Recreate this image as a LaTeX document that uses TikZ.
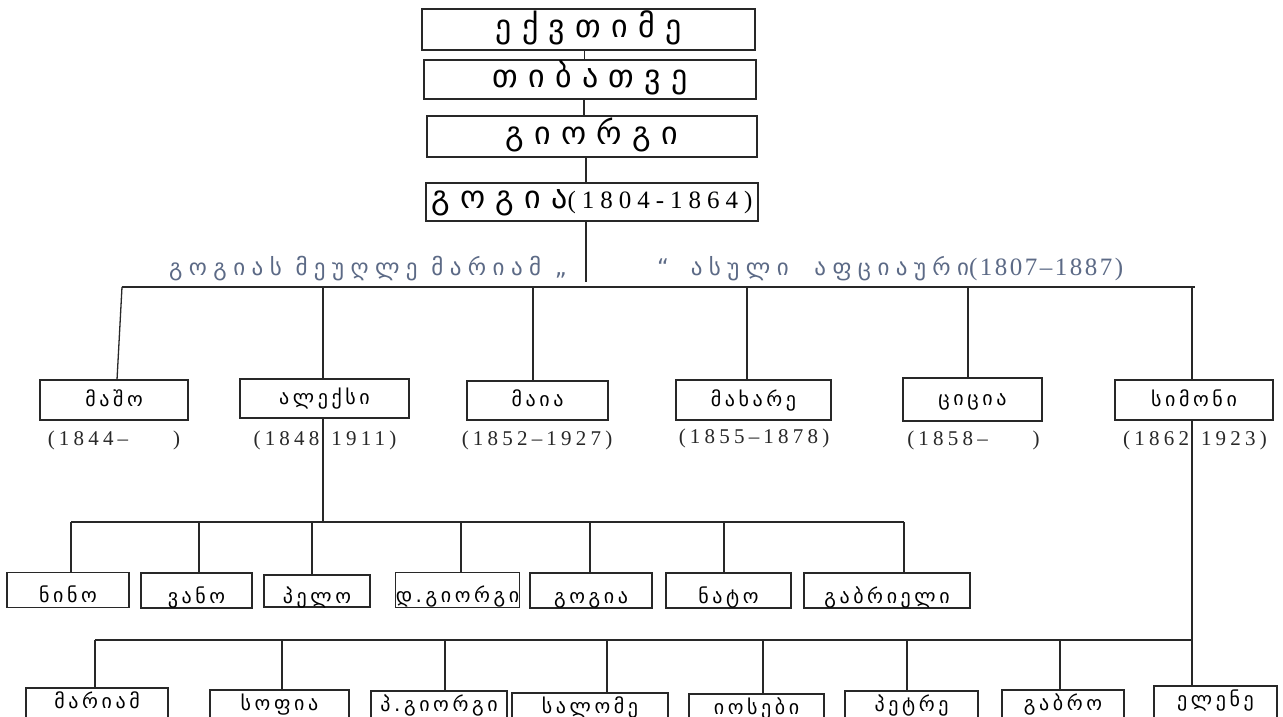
\documentclass[tikz,border=0pt]{standalone}
\usepackage{fontspec}
\newfontfamily\geo[LetterSpace=18]{DejaVu Sans}
\newfontfamily\geosp[LetterSpace=28]{DejaVu Sans}
\newfontfamily\mtav[LetterSpace=32]{DejaVu Sans}
\newfontfamily\digs[LetterSpace=20]{Liberation Serif}
\newfontfamily\digb[LetterSpace=24]{Liberation Serif}
\newfontfamily\digsp[LetterSpace=10]{Liberation Serif}
\definecolor{spouse}{RGB}{92,106,134}
\definecolor{ln}{RGB}{40,40,40}
\begin{document}
\begin{tikzpicture}[x=1pt,y=-1pt,
  box/.style={draw=ln, line width=1.3pt, inner sep=0pt, outer sep=0pt, align=center},
  topbox/.style={box, font=\mtav\fontsize{32}{36}\selectfont, text height=23pt, text depth=7pt},
  kid/.style={box, font=\geo\fontsize{20}{22}\selectfont, text height=17pt, text depth=5pt, minimum height=40pt},
  gkid/.style={box, font=\geo\fontsize{20}{22}\selectfont, text height=25pt, text depth=0pt, minimum height=35pt},
  bkid/.style={box, anchor=north, font=\geo\fontsize{20}{22}\selectfont, text height=15pt, text depth=11pt, minimum height=36pt},
  date/.style={font=\digs\fontsize{21}{24}\selectfont, anchor=base, inner sep=0pt, text=ln},
  spousetext/.style={font=\geosp\fontsize{23}{26}\selectfont, text=spouse, anchor=base west, inner sep=0pt},
  link/.style={draw=ln, line width=1.3pt}]
\useasboundingbox (0,0) rectangle (1283,717);
\clip (0,0) rectangle (1283,717);
\fill[white] (0,0) rectangle (1283,717);

% ancestors
\node[topbox, minimum width=333pt, minimum height=41pt] (b1) at (588.5,29.5) {ექვთიმე};
\node[topbox, minimum width=332pt, minimum height=39pt] (b2) at (590,79.5) {თიბათვე};
\node[topbox, minimum width=330pt, minimum height=41pt] (b3) at (592,136.5) {გიორგი};
\node[topbox, minimum width=332pt, minimum height=38pt, text height=19pt, text depth=7pt] (b4) at (592,202) {გოგია{\digb\fontsize{25}{28}\selectfont(1804-1864)}};

\draw[link] ([xshift=-4pt]b1.south) -- ([xshift=-4pt]b1.south |- b2.north);
\draw[link] ([xshift=-6pt]b2.south) -- ([xshift=-6pt]b2.south |- b3.north);
\draw[link] ([xshift=-6pt]b3.south) -- ([xshift=-6pt]b3.south |- b4.north);
\coordinate (g4end) at (586,282);
\draw[link] (b4.south -| g4end) -- (g4end);

% spouse line
\node[spousetext] (sp1) at (169,275) {გოგიას მეუღლე მარიამ „};
\node[spousetext] (sp2) at (657,275) {“\hspace{8pt} ასული\hspace{12pt} აფციაური{\digsp\fontsize{25}{28}\selectfont(1807–1887)}};

% children bar
\coordinate (bar1L) at (122,287);
\coordinate (bar1R) at (1195,287);
\draw[link] (bar1L) -- (bar1R);

\node[kid, minimum width=148pt] (masho) at (114,400) {მაშო};
\node[kid, minimum width=169pt, minimum height=39pt] (aleksi) at (324.5,398.5) {ალექსი};
\node[kid, minimum width=141pt, minimum height=39pt] (maia) at (537.5,400.5) {მაია};
\node[kid, minimum width=155pt] (makhare) at (753.5,400) {მახარე};
\node[kid, minimum width=139pt, minimum height=43pt] (tsitsia) at (972.5,399.5) {ციცია};
\node[kid, minimum width=158pt] (simoni) at (1194,400) {სიმონი};

\draw[link] (bar1L) -- ([xshift=3pt]masho.north);
\draw[link] ([xshift=-1.5pt]aleksi.north |- bar1L) -- ([xshift=-1.5pt]aleksi.north);
\draw[link] ([xshift=-4.5pt]maia.north |- bar1L) -- ([xshift=-4.5pt]maia.north);
\draw[link] ([xshift=-6.5pt]makhare.north |- bar1L) -- ([xshift=-6.5pt]makhare.north);
\draw[link] ([xshift=-4.5pt]tsitsia.north |- bar1L) -- ([xshift=-4.5pt]tsitsia.north);
\draw[link] ([xshift=-2pt]simoni.north |- bar1L) -- ([xshift=-2pt]simoni.north);

% dates
\node[date] (dmasho) at (114,445) {(1844–\hspace*{45pt})};
\node[date] (daleksi) at (325,445) {(1848\hspace*{12pt}1911)};
\node[date] (dmaia) at (537,445) {(1852–1927)};
\node[date] (dmakhare) at (754,443) {(1855–1878)};
\node[date] (dtsitsia) at (973.5,445) {(1858–\hspace*{45pt})};
\node[date] (dsimoni) at (1195,445) {(1862\hspace*{12pt}1923)};

% Aleksi's children
\coordinate (bar2L) at (71,522);
\coordinate (bar2R) at (904,522);
\draw[link] ([xshift=-1.5pt]aleksi.south) -- ([xshift=-1.5pt]aleksi.south |- bar2L);
\draw[link] (bar2L) -- (bar2R);

\node[gkid, minimum width=122pt] (nino) at (68,590) {ნინო};
\node[gkid, minimum width=111pt] (vano) at (196.5,590.5) {ვანო};
\node[gkid, minimum width=106pt, minimum height=32pt] (pelo) at (317,591) {პელო};
\node[gkid, minimum width=123pt] (dgiorgi) at (457.5,590) {დ.გიორგი};
\node[gkid, minimum width=122pt] (gogia) at (591,590.5) {გოგია};
\node[gkid, minimum width=125pt] (nato) at (728.5,590.5) {ნატო};
\node[gkid, minimum width=166pt] (gabrieli) at (887,590.5) {გაბრიელი};

\foreach \n/\s in {nino/3,vano/2.5,pelo/-5,dgiorgi/3.5,gogia/-1,nato/-4.5,gabrieli/17}
  \draw[link] ([xshift=\s pt]\n.north |- bar2L) -- ([xshift=\s pt]\n.north);

% Simoni's children
\coordinate (bar3L) at (95,640);
\draw[link] ([xshift=-2pt]simoni.south) -- ([xshift=-2pt]simoni.south |- bar3L) coordinate (bar3R);

\node[bkid, minimum width=142pt] (mariam) at (97,688) {მარიამ};
\node[bkid, minimum width=139pt] (sofia) at (279.5,690) {სოფია};
\node[bkid, minimum width=136pt] (pgiorgi) at (439,691) {პ.გიორგი};
\node[bkid, minimum width=156pt] (salome) at (590,693) {სალომე};
\node[bkid, minimum width=135pt] (ioseb) at (756.5,694) {იოსები};
\node[bkid, minimum width=133pt] (petre) at (911.5,691) {პეტრე};
\node[bkid, minimum width=122pt] (gabro) at (1063,690) {გაბრო};
\node[bkid, minimum width=123pt] (elene) at (1215.5,686) {ელენე};

\draw[link] (bar3L) -- (bar3R);
\draw[link] (bar3R) -- (bar3R |- elene.north);
\foreach \n/\s in {mariam/-2,sofia/2.5,pgiorgi/6,salome/17,ioseb/6.5,petre/-4.5,gabro/-3}
  \draw[link] ([xshift=\s pt]\n.north |- bar3L) -- ([xshift=\s pt]\n.north);
\end{tikzpicture}
\end{document}
